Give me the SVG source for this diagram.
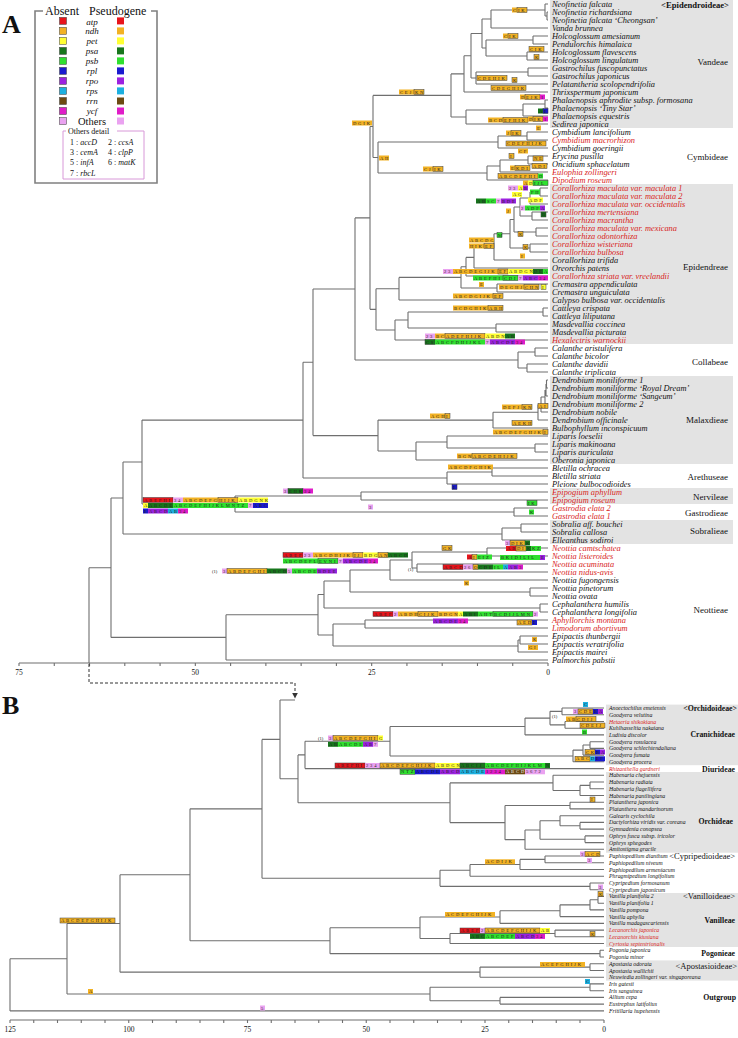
<svg xmlns="http://www.w3.org/2000/svg" width="738" height="1038" viewBox="0 0 738 1038">
<style>
text{font-family:"Liberation Serif","Times New Roman",serif;fill:#111}
.lv{font-style:italic;font-size:8.4px}
.lvb{font-style:italic;font-size:5.8px}
.red{fill:#d8241c}
.tr{font-size:9px;text-anchor:end}
.trb{font-size:7.8px;font-weight:bold;text-anchor:end}
.big{font-size:26px;font-weight:bold}
.ax{font-size:7.5px;text-anchor:middle}
.br{fill:none;stroke:#6f6f6f;stroke-width:1.1}
.band{fill:#e3e3e3}
.gl text{font-size:4.6px;letter-spacing:1.9px;fill:#222}
.a{fill:#e8141b}.n{fill:#f2b224}.e{fill:#ffff33}.s{fill:#17761c}.b{fill:#2fe02f}.l{fill:#1a1ad0}.o{fill:#9c22e0}.c{fill:#1cb0e0}.r{fill:#6c4a12}.y{fill:#e01cc8}.h{fill:#eaa2f0}
.x{stroke:#3a3a3a;stroke-width:0.5}
.lb{fill:none;stroke:#808080;stroke-width:1.6}
.lt{font-size:12px}
.lg{font-size:9px;font-style:italic;text-anchor:middle}
.od{font-size:8px}
.sm{font-size:4.6px}
.dash{fill:none;stroke:#333;stroke-width:1;stroke-dasharray:3 2}
</style>
<defs>
<marker id="arr" viewBox="0 0 10 10" refX="9" refY="5" markerWidth="6" markerHeight="6" orient="auto"><path d="M0 0L10 5L0 10z" fill="#333"/></marker>
</defs>

<g id="bands">
<rect class="band" x="550" y="0" width="183" height="128"/>
<rect class="band" x="550" y="184" width="183" height="160"/>
<rect class="band" x="550" y="376" width="183" height="88"/>
<rect class="band" x="550" y="488" width="183" height="16"/>
<rect class="band" x="550" y="520" width="183" height="24"/>
<rect class="band" x="606" y="704.6" width="132" height="60.6"/>
<rect class="band" x="606" y="772" width="132" height="80.7"/>
<rect class="band" x="606" y="893" width="132" height="54"/>
<rect class="band" x="606" y="960.4" width="132" height="20.2"/>
</g>

<text class="big" x="2" y="33">A</text>
<text class="big" x="2" y="714">B</text>

<g id="legend">
<path class="lb" d="M43 11H35V183H157V11H151"/>
<text class="lt" x="45" y="14.5">Absent</text>
<text class="lt" x="89" y="14.5">Pseudogene</text>
<g class="x">
<rect class="a" x="59.5" y="17.4" width="7" height="7"/>
<rect class="n" x="59.5" y="27.4" width="7" height="7"/>
<rect class="e" x="59.5" y="37.4" width="7" height="7"/>
<rect class="s" x="59.5" y="47.4" width="7" height="7"/>
<rect class="b" x="59.5" y="57.4" width="7" height="7"/>
<rect class="l" x="59.5" y="67.4" width="7" height="7"/>
<rect class="o" x="59.5" y="77.4" width="7" height="7"/>
<rect class="c" x="59.5" y="87.4" width="7" height="7"/>
<rect class="r" x="59.5" y="97.5" width="7" height="7"/>
<rect class="y" x="59.5" y="107.5" width="7" height="7"/>
<rect class="h" x="59.5" y="117.5" width="7" height="7"/>
</g>
<rect class="a" x="117" y="17.4" width="7" height="7"/>
<rect class="n" x="117" y="27.4" width="7" height="7"/>
<rect class="e" x="117" y="37.4" width="7" height="7"/>
<rect class="s" x="117" y="47.4" width="7" height="7"/>
<rect class="b" x="117" y="57.4" width="7" height="7"/>
<rect class="l" x="117" y="67.4" width="7" height="7"/>
<rect class="o" x="117" y="77.4" width="7" height="7"/>
<rect class="c" x="117" y="87.4" width="7" height="7"/>
<rect class="r" x="117" y="97.5" width="7" height="7"/>
<rect class="y" x="117" y="107.5" width="7" height="7"/>
<rect class="h" x="117" y="117.5" width="7" height="7"/>
<text class="lg" x="92" y="24.8">atp</text>
<text class="lg" x="92" y="34">ndh</text>
<text class="lg" x="92" y="44">pet</text>
<text class="lg" x="92" y="54">psa</text>
<text class="lg" x="92" y="64">psb</text>
<text class="lg" x="92" y="74">rpl</text>
<text class="lg" x="92" y="84">rpo</text>
<text class="lg" x="92" y="94">rps</text>
<text class="lg" x="92" y="104">rrn</text>
<text class="lg" x="92" y="114">ycf</text>
<text class="lg" x="92" y="124.5" style="font-style:normal;font-size:10.5px">Others</text>
<path fill="none" stroke="#d898d8" stroke-width="1" d="M66 131H63V179H144V131H117"/>
<text class="od" x="68" y="133.5">Others detail</text>
<text class="od" x="70" y="144.5">1 : <tspan font-style="italic">accD</tspan></text>
<text class="od" x="108" y="144.5">2 : <tspan font-style="italic">ccsA</tspan></text>
<text class="od" x="70" y="154.5">3 : <tspan font-style="italic">cemA</tspan></text>
<text class="od" x="108" y="154.5">4 : <tspan font-style="italic">clpP</tspan></text>
<text class="od" x="70" y="165">5 : <tspan font-style="italic">infA</tspan></text>
<text class="od" x="108" y="165">6 : <tspan font-style="italic">matK</tspan></text>
<text class="od" x="70" y="175.5">7 : <tspan font-style="italic">rbcL</tspan></text>
</g>

<g id="connectors">
<path class="br" d="M547 12V20M547 12H548M547 20H548M545 4V16M545 4H548M545 16H547M491 10V28M491 10H545M491 28H548M533 36V44M533 36H548M533 44H548M527 52V60M527 52H548M527 60H548M486 40V56M486 40H533M486 56H527M482 19V48M482 19H491M482 48H486M528 68V76M528 68H548M528 76H548M476 72V84M476 72H528M476 84H548M471 33.5V78M471 33.5H482M471 78H476M464 55.75V92M464 55.75H471M464 92H548M545 100V108M545 100H548M545 108H548M523 104V116M523 104H545M523 116H548M466 110V124M466 110H523M466 124H548M451 73.9V117M451 73.9H464M451 117H466
M527 132V140M527 132H548M527 140H548M498 136V148M498 136H527M498 148H548M528 156V164M528 156H548M528 164H548M500 160V172M500 160H528M500 172H548M487 166V180M487 166H500M487 180H548M378 142V173M378 142H498M378 173H487M373 95.4V157.5M373 95.4H451M373 157.5H378
M540 188V196M540 188H548M540 196H548M530 192V204M530 192H540M530 204H548M532 212V220M532 212H548M532 220H548M520 198V216M520 198H530M520 216H532M536 228V236M536 228H548M536 236H548M514 207V232M514 207H520M514 232H536M530 244V252M530 244H548M530 252H548M510 219.5V248M510 219.5H514M510 248H530M494 233.75V260M494 233.75H510M494 260H548M474 246.9V268M474 246.9H494M474 268H548M466 257.4V276M466 257.4H474M466 276H548M497 284V292M497 284H548M497 292H548M461 266.7V288M461 266.7H466M461 288H497M399 277.4V300M399 277.4H461M399 300H548M543 308V316M543 308H548M543 316H548M496 324V332M496 324H548M496 332H548M408 312V328M408 312H543M408 328H496M395 320V340M395 320H408M395 340H548M376 288.7V330M376 288.7H399M376 330H395M370 126.45V309.35M370 126.45H373M370 309.35H376M535 348V356M535 348H548M535 356H548M527 364V372M527 364H548M527 372H548M518 352V368M518 352H535M518 368H527M355 217.9V360M355 217.9H370M355 360H518
M546.5 380V388M546.5 380H548M546.5 388H548M546 384V396M546 396H548M545 390V404M545 404H548M541 397V412M541 397H545M541 412H548M538 404.5V420M538 404.5H541M538 420H548M493 412.25V428M493 412.25H538M493 428H548M535 444V452M535 444H548M535 452H548M447 436V448M447 436H548M447 448H535M416 442V460M416 442H447M416 460H548M378 420.1V451M378 420.1H493M378 451H416M313 288.95V435.6M313 288.95H355M313 435.6H378M492 468V476M492 468H548M492 476H548M447 472V484M447 472H492M447 484H548M303 362.3V478M303 362.3H313M303 478H447M361 492V500M361 492H548M361 500H548M514 508V516M514 508H548M514 516H548M235 496V512M235 496H361M235 512H514M142 420.1V504M142 420.1H303M142 504H235M521 524V532M521 524H548M521 532H548M502 528V540M502 528H521M502 540H548M123 462V534M123 462H142M123 534H502
M487 548V556M487 548H548M487 556H548M417 564V572M417 564H548M417 572H548M412 552V568M412 552H487M412 568H417M390 560V580M390 560H412M390 580H548M530 588V596M530 588H548M530 596H548M350 570V592M350 570H390M350 592H530M540 604V612M540 604H548M540 612H548M324 581V608M324 581H350M324 608H540M365 620V628M365 620H548M365 628H548M520 636V644M520 636H548M520 644H548M518 640V652M518 640H520M518 652H548M333 624V646M333 624H365M333 646H518M318 594.5V635M318 594.5H324M318 635H333M226 614.75V660M226 614.75H318M226 660H548M111 498V637.4M111 498H123M111 637.4H226M89 567.7V663M89 567.7H111"/>
<path class="br" d="M19 663H548M19 663v3M54.27 663v3M89.53 663v3M124.8 663v3M160.07 663v3M195.33 663v3M230.6 663v3M265.87 663v3M301.13 663v3M336.4 663v3M371.67 663v3M406.93 663v3M442.2 663v3M477.47 663v3M512.73 663v3M548 663v3"/>
<path class="dash" d="M89 664V683H295V698" marker-end="url(#arr)"/>
<path class="br" d="M562 708V714.7M562 708H604M562 714.7H604M565 721.5V728.2M565 721.5H604M565 728.2H604M550 711.35V724.85M550 711.35H562M550 724.85H565M525 718.1V734.9M525 718.1H550M525 734.9H604M590 741.7V748.4M590 741.7H604M590 748.4H604M583 745.05V755.1M583 745.05H590M583 755.1H604M573 750.1V761.8M573 750.1H583M573 761.8H604M390 726.5V755.95M390 726.5H525M390 755.95H573M305 741.2V768.6M305 741.2H390M305 768.6H604
M590 782V788.8M590 782H604M590 788.8H604M580 785.4V795.5M580 785.4H590M580 795.5H604M553 775.3V790.45M553 775.3H604M553 790.45H580M570 802.2V808.9M570 802.2H604M570 808.9H604M580 822.4V829.1M580 822.4H604M580 829.1H604M560 815.7V825.75M560 815.7H604M560 825.75H580M585 835.9V842.6M585 835.9H604M585 842.6H604M540 820.7V839.25M540 820.7H560M540 839.25H585M525 830V849.3M525 830H540M525 849.3H604M505 805.55V839.64M505 805.55H570M505 839.64H525M450 782.9V822.6M450 782.9H553M450 822.6H505M298 754.9V802.75M298 754.9H305M298 802.75H450
M545 856V862.8M545 856H604M545 862.8H604M520 859.4V869.5M520 859.4H545M520 869.5H604M470 864.45V876.2M470 864.45H520M470 876.2H604M590 883V889.7M590 883H604M590 889.7H604M440 870.3V886.35M440 870.3H470M440 886.35H590
M598 896.4V903.2M598 896.4H604M598 903.2H604M590 899.8V909.9M590 899.8H598M590 909.9H604M560 904.85V916.6M560 904.85H590M560 916.6H604M500 910.7V923.4M500 910.7H560M500 923.4H604M555 930.1V936.8M555 930.1H604M555 936.8H604M450 933.45V943.5M450 933.45H555M450 943.5H604M420 917.05V938.5M420 917.05H500M420 938.5H450M600 950.3V957M600 950.3H604M600 957H604M330 927.8V953.65M330 927.8H420M330 953.65H600
M280 700V778.8M280 700H295M280 778.8H298M262 739.4V878.3M262 739.4H280M262 878.3H440M190 808.85V940.7M190 808.85H262M190 940.7H330M590 963.7V970.5M590 963.7H604M590 970.5H604M480 967.1V977.2M480 967.1H590M480 977.2H604M120 874.8V972.15M120 874.8H190M120 972.15H480M590 983.9V990.7M590 983.9H604M590 990.7H604M500 997.4V1004.1M500 997.4H604M500 1004.1H604M430 987.3V1000.75M430 987.3H590M430 1000.75H500M67 923.5V994M67 923.5H120M67 994H430M10 958.75V1010.9M10 958.75H67M10 1010.9H604"/>
<path class="br" d="M10 1020H604M10 1020v3M33.75 1020v3M57.5 1020v3M81.25 1020v3M105 1020v3M128.75 1020v3M152.5 1020v3M176.25 1020v3M200 1020v3M223.75 1020v3M247.5 1020v3M271.25 1020v3M295 1020v3M318.75 1020v3M342.5 1020v3M366.25 1020v3M390 1020v3M413.75 1020v3M437.5 1020v3M461.25 1020v3M485 1020v3M508.75 1020v3M532.5 1020v3M556.25 1020v3M580 1020v3M604 1020v3"/>
</g>

<g id="axis-labels">
<text class="ax" x="19" y="675">75</text><text class="ax" x="195.3" y="675">50</text><text class="ax" x="371.7" y="675">25</text><text class="ax" x="548" y="675">0</text>
<text class="ax" x="10" y="1032">125</text><text class="ax" x="128.75" y="1032">100</text><text class="ax" x="247.5" y="1032">75</text><text class="ax" x="366.25" y="1032">50</text><text class="ax" x="485" y="1032">25</text><text class="ax" x="604" y="1032">0</text>
</g>

<g id="leaves-A" class="lv">
<text x="552" y="6.8">Neofinetia falcata</text>
<text x="552" y="14.8">Neofinetia richardsiana</text>
<text x="552" y="22.8">Neofinetia falcata ‘Cheongsan’</text>
<text x="552" y="30.8">Vanda brunnea</text>
<text x="552" y="38.8">Holcoglossum amesianum</text>
<text x="552" y="46.8">Pendulorchis himalaica</text>
<text x="552" y="54.8">Holcoglossum flavescens</text>
<text x="552" y="62.8">Holcoglossum lingulatum</text>
<text x="552" y="70.8">Gastrochilus fuscopunctatus</text>
<text x="552" y="78.8">Gastrochilus japonicus</text>
<text x="552" y="86.8">Pelatantheria scolopendrifolia</text>
<text x="552" y="94.8">Thrixspermum japonicum</text>
<text x="552" y="102.8">Phalaenopsis aphrodite subsp. formosana</text>
<text x="552" y="110.8">Phalaenopsis ‘Tiny Star’</text>
<text x="552" y="118.8">Phalaenopsis equestris</text>
<text x="552" y="126.8">Sedirea japonica</text>
<text x="552" y="134.8">Cymbidium lancifolium</text>
<text x="552" y="142.8" class="red">Cymbidium macrorhizon</text>
<text x="552" y="150.8">Cymbidium goeringii</text>
<text x="552" y="158.8">Erycina pusilla</text>
<text x="552" y="166.8">Oncidium sphacelatum</text>
<text x="552" y="174.8" class="red">Eulophia zollingeri</text>
<text x="552" y="182.8" class="red">Dipodium roseum</text>
<text x="552" y="190.8" class="red">Corallorhiza maculata var. maculata 1</text>
<text x="552" y="198.8" class="red">Corallorhiza maculata var. maculata 2</text>
<text x="552" y="206.8" class="red">Corallorhiza maculata var. occidentalis</text>
<text x="552" y="214.8" class="red">Corallorhiza mertensiana</text>
<text x="552" y="222.8" class="red">Corallorhiza macrantha</text>
<text x="552" y="230.8" class="red">Corallorhiza maculata var. mexicana</text>
<text x="552" y="238.8" class="red">Corallorhiza odontorhiza</text>
<text x="552" y="246.8" class="red">Corallorhiza wisteriana</text>
<text x="552" y="254.8" class="red">Corallorhiza bulbosa</text>
<text x="552" y="262.8">Corallorhiza trifida</text>
<text x="552" y="270.8">Oreorchis patens</text>
<text x="552" y="278.8" class="red">Corallorhiza striata var. vreelandii</text>
<text x="552" y="286.8">Cremastra appendiculata</text>
<text x="552" y="294.8">Cremastra unguiculata</text>
<text x="552" y="302.8">Calypso bulbosa var. occidentalis</text>
<text x="552" y="310.8">Cattleya crispata</text>
<text x="552" y="318.8">Cattleya liliputana</text>
<text x="552" y="326.8">Masdevallia coccinea</text>
<text x="552" y="334.8">Masdevallia picturata</text>
<text x="552" y="342.8" class="red">Hexalectris warnockii</text>
<text x="552" y="350.8">Calanthe aristulifera</text>
<text x="552" y="358.8">Calanthe bicolor</text>
<text x="552" y="366.8">Calanthe davidii</text>
<text x="552" y="374.8">Calanthe triplicata</text>
<text x="552" y="382.8">Dendrobium moniliforme 1</text>
<text x="552" y="390.8">Dendrobium moniliforme ‘Royal Dream’</text>
<text x="552" y="398.8">Dendrobium moniliforme ‘Sangeum’</text>
<text x="552" y="406.8">Dendrobium moniliforme 2</text>
<text x="552" y="414.8">Dendrobium nobile</text>
<text x="552" y="422.8">Dendrobium officinale</text>
<text x="552" y="430.8">Bulbophyllum inconspicuum</text>
<text x="552" y="438.8">Liparis loeselii</text>
<text x="552" y="446.8">Liparis makinoana</text>
<text x="552" y="454.8">Liparis auriculata</text>
<text x="552" y="462.8">Oberonia japonica</text>
<text x="552" y="470.8">Bletilla ochracea</text>
<text x="552" y="478.8">Bletilla striata</text>
<text x="552" y="486.8">Pleione bulbocodioides</text>
<text x="552" y="494.8" class="red">Epipogium aphyllum</text>
<text x="552" y="502.8" class="red">Epipogium roseum</text>
<text x="552" y="510.8" class="red">Gastrodia elata 2</text>
<text x="552" y="518.8" class="red">Gastrodia elata 1</text>
<text x="552" y="526.8">Sobralia aff. bouchei</text>
<text x="552" y="534.8">Sobralia callosa</text>
<text x="552" y="542.8">Elleanthus sodiroi</text>
<text x="552" y="550.8" class="red">Neottia camtschatea</text>
<text x="552" y="558.8" class="red">Neottia listeroides</text>
<text x="552" y="566.8" class="red">Neottia acuminata</text>
<text x="552" y="574.8" class="red">Neottia nidus-avis</text>
<text x="552" y="582.8">Neottia fugongensis</text>
<text x="552" y="590.8">Neottia pinetorum</text>
<text x="552" y="598.8">Neottia ovata</text>
<text x="552" y="606.8">Cephalanthera humilis</text>
<text x="552" y="614.8">Cephalanthera longifolia</text>
<text x="552" y="622.8" class="red">Aphyllorchis montana</text>
<text x="552" y="630.8" class="red">Limodorum abortivum</text>
<text x="552" y="638.8">Epipactis thunbergii</text>
<text x="552" y="646.8">Epipactis veratrifolia</text>
<text x="552" y="654.8">Epipactis mairei</text>
<text x="552" y="662.8">Palmorchis pabstii</text>
</g>

<g id="tribes-A">
<text class="tr" x="729" y="7.5" style="font-weight:bold;font-size:8.6px">&lt;Epidendroideae&gt;</text>
<text class="tr" x="728" y="65">Vandeae</text>
<text class="tr" x="728" y="160">Cymbideae</text>
<text class="tr" x="728" y="270">Epidendreae</text>
<text class="tr" x="728" y="365">Collabeae</text>
<text class="tr" x="728" y="423">Malaxdieae</text>
<text class="tr" x="728" y="480">Arethuseae</text>
<text class="tr" x="728" y="499.5">Nervileae</text>
<text class="tr" x="728" y="515.5">Gastrodieae</text>
<text class="tr" x="728" y="534">Sobralieae</text>
<text class="tr" x="728" y="613">Neottieae</text>
</g>

<g id="leaves-B" class="lvb">
<text x="609" y="710">Anoectochilus emeiensis</text>
<text x="609" y="716.7">Goodyera velutina</text>
<text x="609" y="723.5" class="red">Hetaeria shikokiana</text>
<text x="609" y="730.2">Kuhlhasseltia nakaiana</text>
<text x="609" y="736.9">Ludisia discolor</text>
<text x="609" y="743.7">Goodyera rosulacea</text>
<text x="609" y="750.4">Goodyera schlechtendaliana</text>
<text x="609" y="757.1">Goodyera fumata</text>
<text x="609" y="763.8">Goodyera procera</text>
<text x="609" y="770.6" class="red">Rhizanthella gardneri</text>
<text x="609" y="777.3">Habenaria chejuensis</text>
<text x="609" y="784">Habenaria radiata</text>
<text x="609" y="790.8">Habenaria flagellifera</text>
<text x="609" y="797.5">Habenaria pantlingiana</text>
<text x="609" y="804.2">Platanthera japonica</text>
<text x="609" y="810.9">Platanthera mandarinorum</text>
<text x="609" y="817.7">Galearis cyclochila</text>
<text x="609" y="824.4">Dactylorhiza viridis var. coreana</text>
<text x="609" y="831.1">Gymnadenia conopsea</text>
<text x="609" y="837.9">Ophrys fusca subsp. iricolor</text>
<text x="609" y="844.6">Ophrys sphegodes</text>
<text x="609" y="851.3">Amitostigma gracile</text>
<text x="609" y="858">Paphiopedilum dianthum</text>
<text x="609" y="864.8">Paphiopedilum niveum</text>
<text x="609" y="871.5">Paphiopedilum armeniacum</text>
<text x="609" y="878.2">Phragmipedium longifolium</text>
<text x="609" y="885">Cypripedium formosanum</text>
<text x="609" y="891.7">Cypripedium japonicum</text>
<text x="609" y="898.4">Vanilla planifolia 2</text>
<text x="609" y="905.2">Vanilla planifolia 1</text>
<text x="609" y="911.9">Vanilla pompona</text>
<text x="609" y="918.6">Vanilla aphylla</text>
<text x="609" y="925.4">Vanilla madagascariensis</text>
<text x="609" y="932.1" class="red">Lecanorchis japonica</text>
<text x="609" y="938.8" class="red">Lecanorchis kiusiana</text>
<text x="609" y="945.5" class="red">Cyrtosia septentrionalis</text>
<text x="609" y="952.3">Pogonia japonica</text>
<text x="609" y="959">Pogonia minor</text>
<text x="609" y="965.7">Apostasia odorata</text>
<text x="609" y="972.5">Apostasia wallichii</text>
<text x="609" y="979.2">Neuwiedia zollingeri var. singaporeana</text>
<text x="609" y="985.9">Iris gatesii</text>
<text x="609" y="992.7">Iris sanguinea</text>
<text x="609" y="999.4">Allium cepa</text>
<text x="609" y="1006.1">Eustrephus latifolius</text>
<text x="609" y="1012.9">Fritillaria hupehensis</text>
</g>

<g id="tribes-B">
<text class="trb" x="737" y="710.5">&lt;Orchidoideae&gt;</text>
<text class="trb" x="735" y="737">Cranichideae</text>
<text class="trb" x="735" y="771.5">Diurideae</text>
<text class="trb" x="733" y="824">Orchideae</text>
<text class="tr" x="735" y="859" style="font-size:8.5px">&lt;Cypripedioideae&gt;</text>
<text class="tr" x="735" y="899" style="font-size:8.5px">&lt;Vanilloideae&gt;</text>
<text class="trb" x="735" y="923">Vanilleae</text>
<text class="trb" x="735" y="956">Pogonieae</text>
<text class="tr" x="737" y="969" style="font-size:8.5px">&lt;Apostasioideae&gt;</text>
<text class="trb" x="736" y="1000">Outgroup</text>
</g>

<g id="gene-labels-A" class="gl">
<rect class="n" x="512" y="7.5" width="5" height="5"/><text x="512.9" y="11.6">C</text><rect class="n x" x="517" y="7.5" width="10" height="5"/><text x="517.9" y="11.6">IK</text>
<rect class="n" x="503" y="33.5" width="5" height="5"/><text x="503.9" y="37.6">C</text><rect class="n x" x="508" y="33.5" width="10" height="5"/><text x="508.9" y="37.6">IK</text>
<rect class="n x" x="529" y="46.5" width="15" height="5"/><text x="529.9" y="50.6">CIK</text>
<rect class="n x" x="534" y="54.5" width="5" height="5"/><text x="534.9" y="58.6">K</text>
<rect class="n x" x="477" y="75.5" width="30" height="5"/><text x="477.9" y="79.6">CDEHIK</text>
<rect class="n x" x="512" y="77.5" width="5" height="5"/><text x="512.9" y="81.6">K</text>
<rect class="n x" x="491" y="85.5" width="35" height="5"/><text x="491.9" y="89.6">CDEGHIK</text>
<rect class="n" x="520" y="94.5" width="5" height="5"/><text x="520.9" y="98.6">D</text><rect class="n x" x="525" y="94.5" width="15" height="5"/><text x="525.9" y="98.6">EJK</text><rect class="y" x="540" y="94.5" width="5" height="5"/><text x="540.9" y="98.6">1</text>
<rect class="s" x="538" y="108.5" width="5" height="5"/><text x="538.9" y="112.6">A</text><rect class="l x" x="543" y="108.5" width="5" height="5"/><text x="543.9" y="112.6">E</text>
<rect class="n" x="488" y="117.5" width="15" height="5"/><text x="488.9" y="121.6">BCD</text><rect class="n x" x="503" y="117.5" width="25" height="5"/><text x="503.9" y="121.6">EFHIK</text>
<rect class="n" x="528" y="116.5" width="5" height="5"/><text x="528.9" y="120.6">D</text><rect class="n x" x="533" y="116.5" width="10" height="5"/><text x="533.9" y="120.6">IK</text><rect class="y" x="543" y="116.5" width="5" height="5"/><text x="543.9" y="120.6">1</text>
<rect class="n" x="399" y="89.5" width="15" height="5"/><text x="399.9" y="93.6">CEJ</text><rect class="n x" x="414" y="89.5" width="10" height="5"/><text x="414.9" y="93.6">KN</text>
<rect class="n" x="352" y="120.5" width="20" height="5"/><text x="352.9" y="124.6">DGIK</text>
<rect class="n" x="379" y="155.5" width="10" height="5"/><text x="379.9" y="159.6">AH</text>
<rect class="n" x="423" y="166.5" width="10" height="5"/><text x="423.9" y="170.6">CJ</text><rect class="n x" x="433" y="166.5" width="10" height="5"/><text x="433.9" y="170.6">IK</text>
<rect class="n" x="506" y="130.5" width="5" height="5"/><text x="506.9" y="134.6">J</text><rect class="n x" x="511" y="130.5" width="10" height="5"/><text x="511.9" y="134.6">IK</text>
<rect class="n" x="536" y="125.5" width="5" height="5"/><text x="536.9" y="129.6">E</text>
<rect class="n x" x="506" y="141" width="40" height="5"/><text x="506.9" y="145.1">CDEFHIJK</text>
<rect class="n" x="518" y="148.5" width="10" height="5"/><text x="518.9" y="152.6">CF</text>
<rect class="n x" x="509" y="153.5" width="5" height="5"/><text x="509.9" y="157.6">I</text>
<rect class="n x" x="533" y="156" width="10" height="5"/><text x="533.9" y="160.1">NE</text>
<rect class="n" x="510" y="165.5" width="5" height="5"/><text x="510.9" y="169.6">E</text><rect class="n x" x="515" y="165.5" width="15" height="5"/><text x="515.9" y="169.6">KDI</text>
<rect class="n x" x="532" y="163.5" width="15" height="5"/><text x="532.9" y="167.6">ADI</text>
<rect class="n x" x="498" y="173.5" width="40" height="5"/><text x="498.9" y="177.6">ABCDEFHI</text><rect class="b" x="538" y="173.5" width="5" height="5"/><text x="538.9" y="177.6">D</text>
<rect class="n" x="523" y="180.5" width="5" height="5"/><text x="523.9" y="184.6">A</text><rect class="e" x="528" y="180.5" width="5" height="5"/><text x="528.9" y="184.6">D</text><rect class="b x" x="533" y="180.5" width="15" height="5"/><text x="533.9" y="184.6">IJL</text>
<rect class="h" x="508" y="185.5" width="10" height="5"/><text x="508.9" y="189.6">23</text><rect class="e" x="518" y="185.5" width="5" height="5"/><text x="518.9" y="189.6">A</text><rect class="o" x="523" y="185.5" width="5" height="5"/><text x="523.9" y="189.6">B</text>
<rect class="b" x="530" y="189.5" width="10" height="5"/><text x="530.9" y="193.6">FH</text>
<rect class="e" x="512" y="192" width="10" height="5"/><text x="512.9" y="196.1">AG</text>
<rect class="s" x="476" y="198.5" width="10" height="5"/><text x="476.9" y="202.6">AB</text><rect class="b" x="486" y="198.5" width="10" height="5"/><text x="486.9" y="202.6">SC</text><rect class="h" x="496" y="198.5" width="5" height="5"/><text x="496.9" y="202.6">7</text><rect class="o" x="501" y="198.5" width="15" height="5"/><text x="501.9" y="202.6">BDE</text>
<rect class="e" x="528" y="197.5" width="15" height="5"/><text x="528.9" y="201.6">ADF</text>
<rect class="h" x="520" y="205.5" width="5" height="5"/><text x="520.9" y="209.6">2</text><rect class="b" x="525" y="205.5" width="15" height="5"/><text x="525.9" y="209.6">ADF</text><rect class="o" x="540" y="205.5" width="5" height="5"/><text x="540.9" y="209.6">A</text>
<rect class="n" x="506" y="208.5" width="5" height="5"/><text x="506.9" y="212.6">J</text>
<rect class="s x" x="541" y="212" width="5" height="5"/><text x="541.9" y="216.1">B</text>
<rect class="b x" x="497" y="232.5" width="5" height="5"/><text x="497.9" y="236.6">M</text>
<rect class="n x" x="518" y="231.5" width="5" height="5"/><text x="518.9" y="235.6">K</text>
<rect class="n x" x="523" y="244.5" width="5" height="5"/><text x="523.9" y="248.6">K</text>
<rect class="n" x="520" y="253.5" width="5" height="5"/><text x="520.9" y="257.6">I</text>
<rect class="n" x="469" y="237.5" width="25" height="5"/><text x="469.9" y="241.6">ABCDG</text>
<rect class="n" x="469" y="243.5" width="15" height="5"/><text x="469.9" y="247.6">HIK</text><rect class="n x" x="484" y="243.5" width="10" height="5"/><text x="484.9" y="247.6">EF</text>
<rect class="h" x="443" y="269" width="10" height="5"/><text x="443.9" y="273.1">23</text><rect class="n" x="453" y="269" width="45" height="5"/><text x="453.9" y="273.1">ABCDEGIJK</text><rect class="n x" x="498" y="269" width="10" height="5"/><text x="498.9" y="273.1">EF</text><rect class="e" x="508" y="269" width="25" height="5"/><text x="508.9" y="273.1">ABDGN</text><rect class="s" x="533" y="269" width="10" height="5"/><text x="533.9" y="273.1">DE</text><rect class="b" x="543" y="269" width="5" height="5"/><text x="543.9" y="273.1">A</text>
<rect class="b" x="473" y="275.5" width="30" height="5"/><text x="473.9" y="279.6">ABEFHI</text><rect class="b x" x="503" y="275.5" width="15" height="5"/><text x="503.9" y="279.6">CDI</text><rect class="h" x="518" y="275.5" width="5" height="5"/><text x="518.9" y="279.6">7</text><rect class="o" x="523" y="275.5" width="15" height="5"/><text x="523.9" y="279.6">ABC</text><rect class="y" x="538" y="275.5" width="10" height="5"/><text x="538.9" y="279.6">34</text>
<rect class="n" x="479" y="282" width="5" height="5"/><text x="479.9" y="286.1">E</text>
<rect class="n" x="499" y="284.5" width="25" height="5"/><text x="499.9" y="288.6">DEGHJ</text><rect class="n x" x="524" y="284.5" width="15" height="5"/><text x="524.9" y="288.6">CHN</text><rect class="e x" x="541" y="284.5" width="5" height="5"/><text x="541.9" y="288.6">I</text>
<rect class="n" x="453" y="293.5" width="40" height="5"/><text x="453.9" y="297.6">ABCDGIJK</text><rect class="n x" x="493" y="293.5" width="10" height="5"/><text x="493.9" y="297.6">EF</text>
<rect class="n" x="453" y="305.5" width="35" height="5"/><text x="453.9" y="309.6">BCDGHIK</text><rect class="n x" x="488" y="305.5" width="15" height="5"/><text x="488.9" y="309.6">ABH</text>
<rect class="h" x="425" y="333.5" width="10" height="5"/><text x="425.9" y="337.6">23</text><rect class="n" x="435" y="333.5" width="10" height="5"/><text x="435.9" y="337.6">BC</text><rect class="n x" x="445" y="333.5" width="40" height="5"/><text x="445.9" y="337.6">ADEFHIJK</text><rect class="e" x="485" y="333.5" width="20" height="5"/><text x="485.9" y="337.6">ABDN</text><rect class="s" x="505" y="333.5" width="10" height="5"/><text x="505.9" y="337.6">AB</text>
<rect class="s x" x="425" y="339.5" width="10" height="5"/><text x="425.9" y="343.6">CS</text><rect class="b" x="435" y="339.5" width="50" height="5"/><text x="435.9" y="343.6">ABCFDHIJKL</text><rect class="h" x="485" y="339.5" width="5" height="5"/><text x="485.9" y="343.6">7</text><rect class="o" x="490" y="339.5" width="25" height="5"/><text x="490.9" y="343.6">ABCDE</text><rect class="y" x="515" y="339.5" width="10" height="5"/><text x="515.9" y="343.6">34</text>
<rect class="n" x="502" y="404.5" width="20" height="5"/><text x="502.9" y="408.6">DEFJ</text><rect class="n x" x="522" y="404.5" width="10" height="5"/><text x="522.9" y="408.6">KN</text>
<rect class="n x" x="538" y="403.5" width="10" height="5"/><text x="538.9" y="407.6">AI</text>
<rect class="n" x="430" y="413.5" width="15" height="5"/><text x="430.9" y="417.6">AGH</text><rect class="n x" x="445" y="413.5" width="5" height="5"/><text x="445.9" y="417.6">I</text>
<rect class="n x" x="512" y="420.5" width="20" height="5"/><text x="512.9" y="424.6">AEKH</text>
<rect class="n" x="493" y="429.5" width="50" height="5"/><text x="493.9" y="433.6">ABCDEFGHJK</text><rect class="n x" x="543" y="429.5" width="5" height="5"/><text x="543.9" y="433.6">I</text>
<rect class="n" x="457" y="453.5" width="15" height="5"/><text x="457.9" y="457.6">BGN</text><rect class="n x" x="472" y="453.5" width="45" height="5"/><text x="472.9" y="457.6">ABCDEHIJK</text>
<rect class="n" x="448" y="464.5" width="45" height="5"/><text x="448.9" y="468.6">ABCDFGHIK</text>
<rect class="l x" x="452" y="484.5" width="5" height="5"/><text x="452.9" y="488.6">E</text>
<rect class="h" x="283" y="488.5" width="5" height="5"/><text x="283.9" y="492.6">3</text><rect class="s x" x="288" y="488.5" width="15" height="5"/><text x="288.9" y="492.6">EHK</text><rect class="y" x="303" y="488.5" width="10" height="5"/><text x="303.9" y="492.6">34</text>
<rect class="a x" x="143" y="497.5" width="30" height="5"/><text x="143.9" y="501.6">ABEFHI</text><rect class="h" x="173" y="497.5" width="10" height="5"/><text x="173.9" y="501.6">34</text><rect class="n" x="183" y="497.5" width="35" height="5"/><text x="183.9" y="501.6">ABCDEFG</text><rect class="n x" x="218" y="497.5" width="20" height="5"/><text x="218.9" y="501.6">HIJK</text><rect class="e" x="238" y="497.5" width="30" height="5"/><text x="238.9" y="501.6">ABDGNK</text>
<rect class="e" x="143" y="503" width="5" height="5"/><text x="143.9" y="507.1">A</text><rect class="s" x="148" y="503" width="25" height="5"/><text x="148.9" y="507.1">ABCDE</text><rect class="b" x="173" y="503" width="75" height="5"/><text x="173.9" y="507.1">ABCDEFHIJKLMNTZ</text><rect class="h" x="248" y="503" width="5" height="5"/><text x="248.9" y="507.1">7</text><rect class="l" x="253" y="503" width="15" height="5"/><text x="253.9" y="507.1">ABC</text>
<rect class="l" x="143" y="508.5" width="5" height="5"/><text x="143.9" y="512.6">E</text><rect class="o" x="148" y="508.5" width="20" height="5"/><text x="148.9" y="512.6">ABCD</text><rect class="c" x="168" y="508.5" width="10" height="5"/><text x="168.9" y="512.6">AB</text><rect class="y" x="178" y="508.5" width="10" height="5"/><text x="178.9" y="512.6">34</text>
<rect class="h" x="368" y="504.5" width="5" height="5"/><text x="368.9" y="508.6">3</text>
<rect class="b x" x="527" y="500.5" width="10" height="5"/><text x="527.9" y="504.6">IK</text>
<rect class="b" x="529" y="509.5" width="5" height="5"/><text x="529.9" y="513.6">K</text>
<rect class="h" x="505" y="540.5" width="5" height="5"/><text x="505.9" y="544.6">3</text><rect class="n x" x="510" y="540.5" width="15" height="5"/><text x="510.9" y="544.6">DIK</text><rect class="s" x="525" y="540.5" width="5" height="5"/><text x="525.9" y="544.6">K</text>
<rect class="n x" x="442" y="545.5" width="10" height="5"/><text x="442.9" y="549.6">GK</text>
<rect class="a" x="506" y="546" width="10" height="5"/><text x="506.9" y="550.1">AB</text><rect class="n x" x="516" y="546" width="10" height="5"/><text x="516.9" y="550.1">DI</text><rect class="s" x="526" y="546" width="5" height="5"/><text x="526.9" y="550.1">K</text><rect class="b" x="531" y="546" width="10" height="5"/><text x="531.9" y="550.1">KZ</text>
<rect class="a x" x="283" y="552.5" width="20" height="5"/><text x="283.9" y="556.6">ABEF</text><rect class="h" x="303" y="552.5" width="10" height="5"/><text x="303.9" y="556.6">23</text><rect class="n" x="313" y="552.5" width="40" height="5"/><text x="313.9" y="556.6">ABCDHIJK</text><rect class="n x" x="353" y="552.5" width="10" height="5"/><text x="353.9" y="556.6">IJ</text><rect class="e" x="363" y="552.5" width="15" height="5"/><text x="363.9" y="556.6">BDG</text><rect class="n x" x="378" y="552.5" width="10" height="5"/><text x="378.9" y="556.6">AN</text><rect class="s" x="388" y="552.5" width="20" height="5"/><text x="388.9" y="556.6">ABCD</text>
<rect class="b" x="283" y="558.5" width="35" height="5"/><text x="283.9" y="562.6">ABCDEFL</text><rect class="b x" x="318" y="558.5" width="20" height="5"/><text x="318.9" y="562.6">EVNI</text><rect class="h" x="338" y="558.5" width="5" height="5"/><text x="338.9" y="562.6">7</text><rect class="o" x="343" y="558.5" width="25" height="5"/><text x="343.9" y="562.6">ABCDE</text><rect class="y" x="368" y="558.5" width="10" height="5"/><text x="368.9" y="562.6">34</text>
<rect class="a" x="467" y="554.5" width="5" height="5"/><text x="467.9" y="558.6">A</text><rect class="n x" x="472" y="554.5" width="5" height="5"/><text x="472.9" y="558.6">I</text><rect class="b" x="477" y="554.5" width="15" height="5"/><text x="477.9" y="558.6">EIZ</text>
<rect class="b" x="500" y="555" width="40" height="5"/><text x="500.9" y="559.1">BKIDILIL</text><rect class="o" x="540" y="555" width="5" height="5"/><text x="540.9" y="559.1">E</text>
<rect class="h" x="222" y="568.5" width="5" height="5"/><text x="222.9" y="572.6">3</text><rect class="n x" x="227" y="568.5" width="40" height="5"/><text x="227.9" y="572.6">ABDEFGHI</text><rect class="s" x="267" y="568.5" width="20" height="5"/><text x="267.9" y="572.6">ABCD</text><rect class="h" x="287" y="568.5" width="5" height="5"/><text x="287.9" y="572.6">5</text><rect class="b" x="292" y="568.5" width="25" height="5"/><text x="292.9" y="572.6">ABCDE</text><rect class="o" x="317" y="568.5" width="20" height="5"/><text x="317.9" y="572.6">BDEE</text>
<rect class="a x" x="443" y="564.5" width="20" height="5"/><text x="443.9" y="568.6">ABCD</text><rect class="h" x="463" y="564.5" width="10" height="5"/><text x="463.9" y="568.6">26</text><rect class="n x" x="473" y="564.5" width="5" height="5"/><text x="473.9" y="568.6">O</text><rect class="s" x="478" y="564.5" width="15" height="5"/><text x="478.9" y="568.6">CDE</text><rect class="b" x="493" y="564.5" width="10" height="5"/><text x="493.9" y="568.6">IL</text><rect class="c" x="503" y="564.5" width="5" height="5"/><text x="503.9" y="568.6">A</text><rect class="o" x="508" y="564.5" width="10" height="5"/><text x="508.9" y="568.6">AB</text><rect class="y" x="518" y="564.5" width="5" height="5"/><text x="518.9" y="568.6">3</text>
<rect class="n" x="464" y="580.5" width="5" height="5"/><text x="464.9" y="584.6">K</text>
<rect class="a x" x="373" y="611.5" width="20" height="5"/><text x="373.9" y="615.6">ABEF</text><rect class="h" x="393" y="611.5" width="5" height="5"/><text x="393.9" y="615.6">2</text><rect class="n" x="398" y="611.5" width="20" height="5"/><text x="398.9" y="615.6">ABDH</text><rect class="n x" x="418" y="611.5" width="20" height="5"/><text x="418.9" y="615.6">CIJK</text><rect class="n" x="438" y="611.5" width="20" height="5"/><text x="438.9" y="615.6">BDGN</text><rect class="e" x="458" y="611.5" width="5" height="5"/><text x="458.9" y="615.6">A</text><rect class="s" x="463" y="611.5" width="15" height="5"/><text x="463.9" y="615.6">ABI</text><rect class="b" x="478" y="611.5" width="15" height="5"/><text x="478.9" y="615.6">AHT</text><rect class="b x" x="493" y="611.5" width="40" height="5"/><text x="493.9" y="615.6">BCDIJLMN</text><rect class="h" x="533" y="611.5" width="5" height="5"/><text x="533.9" y="615.6">2</text>
<rect class="o" x="433" y="618.5" width="25" height="5"/><text x="433.9" y="622.6">ABCDE</text><rect class="y" x="458" y="618.5" width="10" height="5"/><text x="458.9" y="622.6">34</text>
<rect class="n x" x="517" y="620" width="15" height="5"/><text x="517.9" y="624.1">AED</text><rect class="l" x="532" y="620" width="5" height="5"/><text x="532.9" y="624.1">E</text>
<rect class="n" x="532" y="637" width="5" height="5"/><text x="532.9" y="641.1">K</text>
<rect class="n" x="528" y="645" width="10" height="5"/><text x="528.9" y="649.1">GI</text>
</g>

<g id="gene-labels-B" class="gl">
<rect class="c" x="583" y="702" width="5" height="5"/><text x="583.9" y="706.1">C</text>
<rect class="h" x="573" y="709" width="5" height="5"/><text x="573.9" y="713.1">3</text><rect class="n x" x="578" y="709" width="15" height="5"/><text x="578.9" y="713.1">CDE</text><rect class="l" x="593" y="709" width="5" height="5"/><text x="593.9" y="713.1">B</text><rect class="o" x="598" y="709" width="5" height="5"/><text x="598.9" y="713.1">A</text>
<rect class="n" x="566" y="716.5" width="10" height="5"/><text x="566.9" y="720.6">AB</text><rect class="n x" x="576" y="716.5" width="20" height="5"/><text x="576.9" y="720.6">CDIJ</text>
<rect class="n x" x="580" y="723" width="25" height="5"/><text x="580.9" y="727.1">CDEIJ</text>
<rect class="b" x="582" y="729.5" width="5" height="5"/><text x="582.9" y="733.6">B</text>
<rect class="n x" x="585" y="749.5" width="10" height="5"/><text x="585.9" y="753.6">CK</text><rect class="l" x="595" y="749.5" width="5" height="5"/><text x="595.9" y="753.6">B</text><rect class="o" x="600" y="749.5" width="5" height="5"/><text x="600.9" y="753.6">A</text>
<rect class="n x" x="575" y="756.3" width="15" height="5"/><text x="575.9" y="760.4">ABC</text><rect class="c" x="590" y="756.3" width="5" height="5"/><text x="590.9" y="760.4">D</text><rect class="l" x="595" y="756.3" width="10" height="5"/><text x="595.9" y="760.4">EF</text>
<rect class="h" x="328" y="735.5" width="5" height="5"/><text x="328.9" y="739.6">3</text><rect class="n x" x="333" y="735.5" width="45" height="5"/><text x="333.9" y="739.6">ABCDEFGHI</text><rect class="e" x="378" y="735.5" width="5" height="5"/><text x="378.9" y="739.6">G</text>
<rect class="s" x="328" y="741.8" width="10" height="5"/><text x="328.9" y="745.9">AB</text><rect class="b" x="338" y="741.8" width="25" height="5"/><text x="338.9" y="745.9">ABCDE</text><rect class="o" x="363" y="741.8" width="10" height="5"/><text x="363.9" y="745.9">AB</text><rect class="h" x="373" y="741.8" width="5" height="5"/><text x="373.9" y="745.9">7</text>
<rect class="a x" x="335" y="763" width="30" height="5"/><text x="335.9" y="767.1">ABEFHI</text><rect class="h" x="365" y="763" width="15" height="5"/><text x="365.9" y="767.1">234</text><rect class="n x" x="380" y="763" width="55" height="5"/><text x="380.9" y="767.1">ABCDEFGHIJK</text><rect class="e" x="435" y="763" width="25" height="5"/><text x="435.9" y="767.1">ABDGN</text><rect class="s x" x="460" y="763" width="25" height="5"/><text x="460.9" y="767.1">ABCIJ</text><rect class="b" x="485" y="763" width="60" height="5"/><text x="485.9" y="767.1">ABCDEFHIJKLM</text><rect class="s" x="545" y="763" width="5" height="5"/><text x="545.9" y="767.1">N</text>
<rect class="b x" x="400" y="769.3" width="15" height="5"/><text x="400.9" y="773.4">NTZ</text><rect class="l" x="415" y="769.3" width="25" height="5"/><text x="415.9" y="773.4">ABCDE</text><rect class="o" x="440" y="769.3" width="20" height="5"/><text x="440.9" y="773.4">ABCD</text><rect class="c" x="460" y="769.3" width="25" height="5"/><text x="460.9" y="773.4">ABCDE</text><rect class="y" x="485" y="769.3" width="20" height="5"/><text x="485.9" y="773.4">1234</text><rect class="r" x="505" y="769.3" width="20" height="5"/><text x="505.9" y="773.4" style="fill:#eee">ABCD</text><rect class="h" x="525" y="769.3" width="20" height="5"/><text x="525.9" y="773.4">5672</text>
<rect class="n x" x="590" y="797" width="5" height="5"/><text x="590.9" y="801.1">I</text>
<rect class="h" x="580" y="851.5" width="5" height="5"/><text x="580.9" y="855.6">3</text><rect class="n x" x="585" y="851.5" width="15" height="5"/><text x="585.9" y="855.6">ACD</text>
<rect class="h" x="587" y="858" width="5" height="5"/><text x="587.9" y="862.1">3</text>
<rect class="n" x="485" y="859.3" width="30" height="5"/><text x="485.9" y="863.4">ACDIJK</text>
<rect class="h" x="598" y="884.5" width="5" height="5"/><text x="598.9" y="888.6">3</text>
<rect class="n x" x="598" y="891.5" width="5" height="5"/><text x="598.9" y="895.6">K</text>
<rect class="n" x="445" y="912" width="50" height="5"/><text x="445.9" y="916.1">ACDEFGHIJK</text>
<rect class="a x" x="460" y="928" width="20" height="5"/><text x="460.9" y="932.1">ABEF</text><rect class="h" x="480" y="928" width="5" height="5"/><text x="480.9" y="932.1">2</text><rect class="n x" x="485" y="928" width="55" height="5"/><text x="485.9" y="932.1">ABCDEFGHIJK</text><rect class="e" x="540" y="928" width="10" height="5"/><text x="540.9" y="932.1">AB</text>
<rect class="s" x="470" y="933.9" width="15" height="5"/><text x="470.9" y="938">ABC</text><rect class="b" x="485" y="933.9" width="30" height="5"/><text x="485.9" y="938">ABCDEF</text><rect class="o" x="515" y="933.9" width="20" height="5"/><text x="515.9" y="938">ABCD</text><rect class="y" x="535" y="933.9" width="10" height="5"/><text x="535.9" y="938">34</text>
<rect class="n x" x="590" y="931.5" width="5" height="5"/><text x="590.9" y="935.6">K</text>
<rect class="n" x="540" y="962" width="45" height="5"/><text x="540.9" y="966.1">ACEFGHIJK</text>
<rect class="n x" x="60" y="918" width="55" height="5"/><text x="60.9" y="922.1">ABCDEFGHIJK</text>
<rect class="n" x="88" y="989" width="5" height="5"/><text x="88.9" y="993.1">A</text>
<rect class="h" x="260" y="1005.5" width="5" height="5"/><text x="260.9" y="1009.6">5</text>
<rect class="c" x="585" y="979" width="5" height="5"/><text x="585.9" y="983.1">C</text>
</g>
<text class="sm" x="212" y="573">(1)</text>
<text class="sm" x="408" y="571">(1)</text>
<text class="sm" x="552" y="718">(1)</text>
<text class="sm" x="318" y="740">(1)</text>
</svg>
